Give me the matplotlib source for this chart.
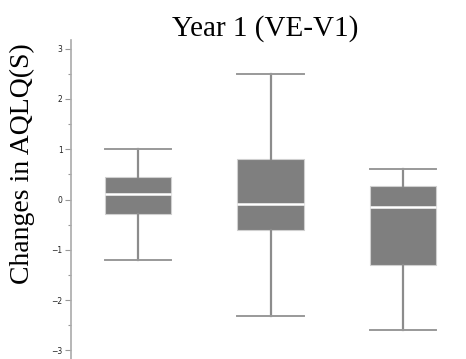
import matplotlib
matplotlib.use('Agg')
import matplotlib.pyplot as plt
import matplotlib.ticker as ticker

groups = ['A', 'B', 'C']
medians = [0.10, -0.09, -0.15]
q1s = [-0.29, -0.61, -1.31]
q3s = [0.45, 0.80, 0.27]
whis_lo = [-1.2, -2.31, -2.60]
whis_hi = [1.0, 2.50, 0.60]

stats = []
for i in range(len(groups)):
    stats.append(dict(label=groups[i], med=medians[i], q1=q1s[i], q3=q3s[i],
                      whislo=whis_lo[i], whishi=whis_hi[i], fliers=[]))

fig = plt.figure(figsize=(4.66, 3.59), dpi=100)
ax = fig.add_axes([71/466, 0, 1 - 71/466, 319/359])

ax.bxp(stats, positions=[1, 2, 3], widths=0.5, patch_artist=True, showfliers=False,
       boxprops=dict(facecolor='#7f7f7f', edgecolor='#d0d0d0', linewidth=0.8),
       medianprops=dict(color='white', linewidth=1.8),
       whiskerprops=dict(color='#8c8c8c', linewidth=1.6),
       capprops=dict(color='#999999', linewidth=1.4), capwidths=0.5)

ax.set_xlim(0.494, 3.475)
ax.set_ylim(-3.17, 3.17)
ax.yaxis.set_major_locator(ticker.MultipleLocator(1))
ax.yaxis.set_minor_locator(ticker.MultipleLocator(0.5))
ax.tick_params(axis='y', which='both', direction='out', colors='#999999', labelcolor='#222222',
               labelsize=5.5, length=4, width=0.8, pad=2)
ax.tick_params(axis='y', which='minor', length=2.5)
ax.set_xticks([])
for s in ['top', 'right', 'bottom']:
    ax.spines[s].set_visible(False)
ax.spines['left'].set_color('#aaaaaa')
ax.spines['left'].set_linewidth(1.2)

fig.text(265/466, 1 - 29/359, 'Year 1 (VE-V1)', ha='center', va='center',
         family='Liberation Serif', fontsize=21)
fig.text(22/466, 1 - 164/359, 'Changes in AQLQ(S)', ha='center', va='center', rotation=90,
         family='Liberation Serif', fontsize=20)

fig.savefig('out.png', dpi=100)
